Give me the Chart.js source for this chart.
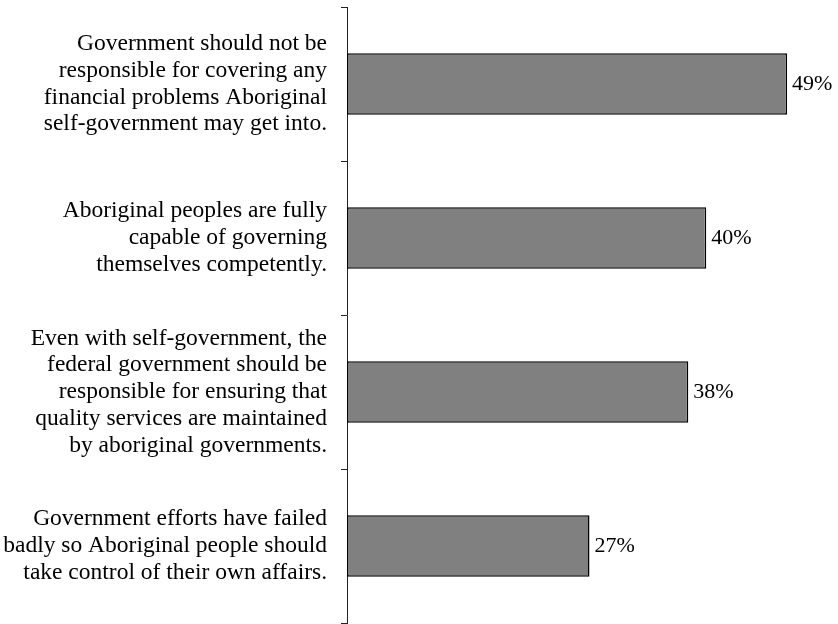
<!DOCTYPE html>
<html>
<head>
<meta charset="utf-8">
<script src="https://cdn.jsdelivr.net/npm/chart.js@4/dist/chart.umd.min.js"></script>
<style>
	html, body { margin: 0; padding: 0; background: #fff; }
	#wrap { width: 838px; height: 624px; }
</style>
</head>
<body>
<div id="wrap"><canvas id="opinionChart" width="838" height="624"></canvas></div>
<script>
// statements, one array of lines per bar
var statements = [
	['Government should not be', 'responsible for covering any', 'financial problems Aboriginal', 'self-government may get into.'],
	['Aboriginal peoples are fully', 'capable of governing', 'themselves competently.'],
	['Even with self-government, the', 'federal government should be', 'responsible for ensuring that', 'quality services are maintained', 'by aboriginal governments.'],
	['Government efforts have failed', 'badly so Aboriginal people should', 'take control of their own affairs.']
];
var agreePercent = [49, 40, 38, 27];

var serif = 'Liberation Serif';

// writes "49%" etc. just past the end of each bar
var valueLabels = {
	id: 'valueLabels',
	afterDatasetsDraw: function(chart) {
		var ctx = chart.ctx;
		var meta = chart.getDatasetMeta(0);
		ctx.save();
		ctx.font = '22px "' + serif + '"';
		ctx.fillStyle = '#000';
		ctx.textAlign = 'left';
		ctx.textBaseline = 'middle';
		meta.data.forEach(function(bar, i) {
			ctx.fillText(agreePercent[i] + '%', bar.x + 5, bar.y);
		});
		ctx.restore();
	}
};

const ctx = document.getElementById('opinionChart').getContext('2d');
const myChart = new Chart(ctx, {
	type: 'bar',
	data: {
		labels: statements,
		datasets: [{
			data: agreePercent,
			backgroundColor: '#808080',
			borderColor: '#000',
			borderWidth: 1.5,
			borderSkipped: false,
			categoryPercentage: 1,
			barPercentage: 0.4
		}]
	},
	options: {
		indexAxis: 'y',
		responsive: false,
		animation: false,
		layout: { padding: { top: 7, bottom: 1, left: 0, right: 6 } },
		plugins: {
			legend: { display: false },
			tooltip: { enabled: false }
		},
		scales: {
			x: {
				display: false,
				min: 0,
				max: 54
			},
			y: {
				afterFit: function(scale) {
					// fixed label column, and let the tall labels overhang top and bottom
					scale.width = 347;
					scale.paddingTop = 0;
					scale.paddingBottom = 0;
				},
				border: { display: true, color: '#222', width: 1 },
				grid: {
					offset: true,
					drawOnChartArea: false,
					drawTicks: true,
					tickLength: 6,
					color: '#222'
				},
				ticks: {
					padding: 14,
					color: '#000',
					font: { family: serif, size: 23.5, lineHeight: 1.135 }
				}
			}
		}
	},
	plugins: [valueLabels]
});
</script>
</body>
</html>
